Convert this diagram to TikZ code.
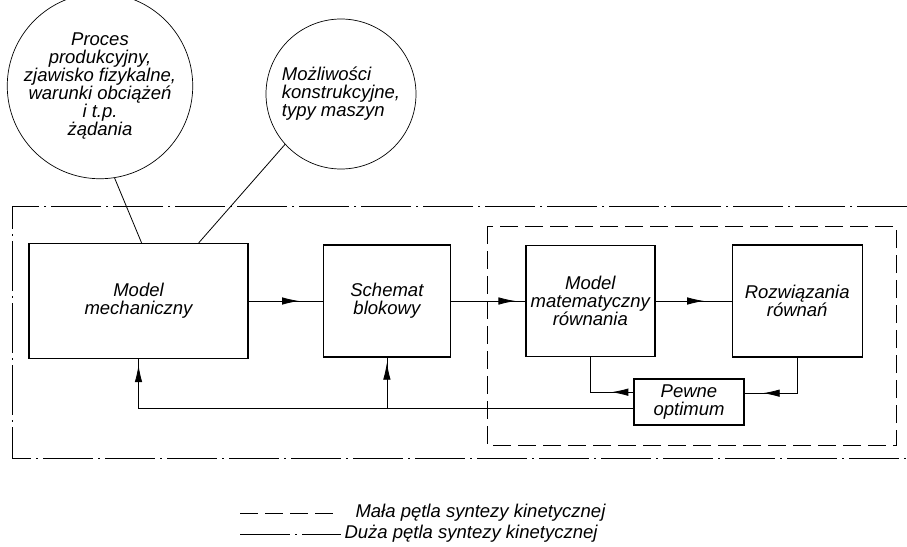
\documentclass[tikz,border=0pt]{standalone}
\usepackage{fontspec}
\setmainfont{Liberation Sans}
\usetikzlibrary{shapes,arrows,arrows.meta,positioning}
\usetikzlibrary{decorations.markings}
\newcommand{\lettering}{\fontsize{18.5}{18}\selectfont\itshape}
\tikzstyle{block} = [draw, rectangle, line width=1.4pt, align=center,
    font=\lettering, inner sep=2pt]
\tikzstyle{source} = [draw, circle, line width=0.7pt, font=\lettering, inner sep=0pt]
\tikzstyle{line} = [line width=0.8pt]
\tikzstyle{smallloop} = [line width=0.9pt, dash pattern=on 18pt off 7pt]
\tikzstyle{bigloop} = [line width=0.9pt, dash pattern=on 50pt off 5pt on 2pt off 5pt]
\tikzset{midarrow/.style={postaction={decorate},
    decoration={markings, mark=at position #1 with {\arrow{Latex[length=17pt,width=7.5pt]}}}}}

\begin{document}
\begin{tikzpicture}[x=1pt, y=-1pt, node distance=74pt, >=latex]
\useasboundingbox (0,0) rectangle (907,546);

    % the two sources of requirements
    \node [source, minimum size=160pt, align=center] (process) at (100,86)
        {Proces\\produkcyjny,\\zjawisko fizykalne,\\warunki obciążeń\\i t.p.\\żądania};
    \node [source, minimum size=150pt, align=left] (features) at (341,94)
        {Możliwości\\konstrukcyjne,\\typy maszyn};

    % the chain of blocks
    \node [block, minimum width=219pt, minimum height=115pt] (mechmodel) at (138.5,301) {Model\\mechaniczny};
    \node [block, minimum width=127pt, minimum height=112pt, right=74pt of mechmodel] (blockdiag) {Schemat\\blokowy};
    \node [block, minimum width=129pt, minimum height=111pt, right=74pt of blockdiag] (mathmodel) {Model\\matematyczny\\równania};
    \node [block, minimum width=130pt, minimum height=112pt, right=76pt of mathmodel] (solution) {Rozwiązania\\równań};
    \node [block, minimum width=110pt, minimum height=46pt, inner sep=1pt] (optimum) at (689,402) {Pewne\\optimum};

    % the two loops
    \draw [bigloop] (907,206) -| (12,458) -- (907,458);
    \draw [smallloop] (487,226) rectangle (896,445);

    % connections
    \draw [line] (process.-81) -- (mechmodel.87);
    \draw [line] (features.222) -- (mechmodel.44);
    \draw [line, midarrow=0.68] (mechmodel) -- (blockdiag);
    \draw [line, midarrow=0.87] (blockdiag) -- (mathmodel);
    \draw [line, midarrow=0.64] (mathmodel) -- (solution);
    \draw [line, midarrow=22pt] (optimum.170) -| (mathmodel.south);
    \draw [line, midarrow=-18pt] (solution.south) |- (optimum.9);
    \draw [line, midarrow=-6pt] (optimum.187) -| (mechmodel.south);
    \coordinate (branch) at (blockdiag.south |- optimum.187);
    \draw [line, midarrow=-5pt] (branch) -- (blockdiag.south);

    % legend
    \coordinate (smallstart) at (240,513);
    \node [font=\lettering, anchor=west] (smalltext) at (352,513) {Mała pętla syntezy kinetycznej};
    \draw [smallloop] (smallstart) -- ([xshift=-14pt]smalltext.west);
    \coordinate (bigstart) at (240,534);
    \node [font=\lettering, anchor=west] (bigtext) at (341,534) {Duża pętla syntezy kinetycznej};
    \draw [bigloop] (bigstart) -- (bigtext.west);

\end{tikzpicture}
\end{document}
